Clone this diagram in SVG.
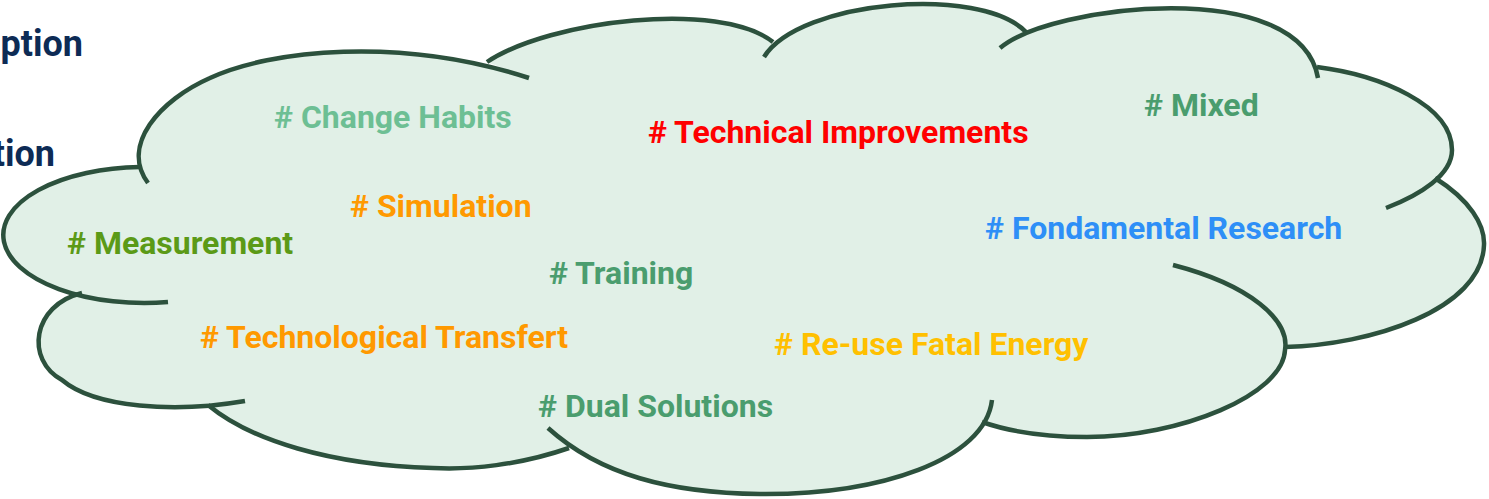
<svg xmlns="http://www.w3.org/2000/svg" width="1489" height="499" viewBox="0 0 1489 499">
<style>
.t{font-family:Roboto,"Liberation Sans",sans-serif;font-weight:bold;font-size:32px}
.h{font-family:Roboto,"Liberation Sans",sans-serif;font-weight:bold;font-size:36px;fill:#0D2B55}
.lobe{fill:none;stroke:#2C513D;stroke-width:4.5;stroke-linecap:butt}
</style>
<rect width="1489" height="499" fill="#ffffff"/>
<text class="h" x="83" y="56" text-anchor="end">ption</text>
<text class="h" x="55" y="166" text-anchor="end">tion</text>
<g id="cloud">
<path fill="#E1F0E7" stroke="none" d="M148,183 C120,145 160,100 210,78 C270,50 400,36 529,78 L487,62 C550,20 720,0 773,42 L764,57 C800,0 980,-15 1026,32 L1000,48 C1050,5 1300,-25 1318,78 L1317,67 C1380,75 1452,105 1452,150 C1452,175 1420,195 1386,208 L1435,178 C1470,200 1485,225 1484,245 C1482,310 1370,345 1285,347 L1173,265 C1250,285 1290,320 1285,350 C1283,395 1180,437 1087,437 C1040,437 1005,430 982,422 L992,400 C985,460 880,495 760,494 C670,493 600,475 548,428 L569,448 C520,465 470,470 433,468 C330,465 250,440 208,405 L245,401 C175,413 95,408 62,380 C25,360 32,305 82,293 L168,302 A141,68 0 1 1 140,167 Z"/>
<path class="lobe" d="M148,183 C120,145 160,100 210,78 C270,50 400,36 529,78"/>
<path class="lobe" d="M487,62 C550,20 720,0 773,42"/>
<path class="lobe" d="M764,57 C800,0 980,-15 1026,32"/>
<path class="lobe" d="M1000,48 C1050,5 1300,-25 1318,78"/>
<path class="lobe" d="M1317,67 C1380,75 1452,105 1452,150 C1452,175 1420,195 1386,208"/>
<path class="lobe" d="M1435,178 C1470,200 1485,225 1484,245 C1482,310 1370,345 1285,347"/>
<path class="lobe" d="M1173,265 C1250,285 1290,320 1285,350 C1283,395 1180,437 1087,437 C1040,437 1005,430 982,422"/>
<path class="lobe" d="M992,400 C985,460 880,495 760,494 C670,493 600,475 548,428"/>
<path class="lobe" d="M569,448 C520,465 470,470 433,468 C330,465 250,440 208,405"/>
<path class="lobe" d="M245,401 C175,413 95,408 62,380 C25,360 32,305 82,293"/>
<path class="lobe" d="M168,302 A141,68 0 1 1 140,167"/>
</g>
<g id="labels">
<text id="change-habits" class="t" x="274" y="128" fill="#6DBF94"># Change Habits</text>
<text id="technical-improvements" class="t" x="648" y="143" fill="#FF0000"># Technical Improvements</text>
<text id="mixed" class="t" x="1144" y="116" fill="#4A9D6E"># Mixed</text>
<text id="simulation" class="t" x="350" y="217" fill="#FF9900"># Simulation</text>
<text id="measurement" class="t" x="67" y="254" fill="#5B9A17"># Measurement</text>
<text id="fondamental-research" class="t" x="985" y="239" fill="#2E8FF7"># Fondamental Research</text>
<text id="training" class="t" x="549" y="284" fill="#4A9D6E"># Training</text>
<text id="technological-transfert" class="t" x="200" y="348" fill="#FF9900"># Technological Transfert</text>
<text id="reuse-fatal-energy" class="t" x="774" y="355" fill="#FFC000"># Re-use Fatal Energy</text>
<text id="dual-solutions" class="t" x="538" y="417" fill="#4A9D6E"># Dual Solutions</text>
</g>
</svg>
